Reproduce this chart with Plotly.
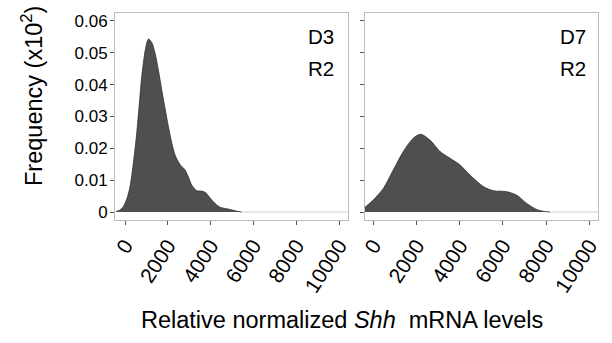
import plotly.graph_objects as go

# D3 R2 density (x = relative normalized Shh mRNA level, y = frequency x10^2)
d3_x = [-420, -250, -78, 100, 234, 400, 545, 680, 779, 950, 1090, 1250, 1402, 1560, 1713, 1870, 2025, 2180, 2336, 2560, 2804, 2960, 3115, 3349, 3540, 3738, 3930, 4128, 4439, 4700, 4907, 5200, 5452]
d3_y = [0.0002, 0.0006, 0.0017, 0.0045, 0.008, 0.016, 0.0247, 0.035, 0.0425, 0.051, 0.0543, 0.0532, 0.0499, 0.0445, 0.0384, 0.0325, 0.0268, 0.0218, 0.0179, 0.0150, 0.0132, 0.0110, 0.0085, 0.0067, 0.0066, 0.0062, 0.0048, 0.0032, 0.0015, 0.0011, 0.0008, 0.0003, 0.0]

# D7 R2 density
d7_x = [-384, 0, 463, 926, 1389, 1852, 2194, 2625, 3088, 3551, 4014, 4477, 5093, 5556, 6173, 6636, 7099, 7562, 7900, 8180]
d7_y = [0.0015, 0.0038, 0.0074, 0.0132, 0.0190, 0.0232, 0.0244, 0.0226, 0.0190, 0.0169, 0.0148, 0.0116, 0.0080, 0.0067, 0.0064, 0.0053, 0.0027, 0.0008, 0.0002, 0.0]

x_ticks = [0, 2000, 4000, 6000, 8000, 10000]
x_tick_labels = ["0", "2000", "4000", "6000", "8000", "10000"]
y_ticks = [0, 0.01, 0.02, 0.03, 0.04, 0.05, 0.06]
y_tick_labels = ["0", "0.01", "0.02", "0.03", "0.04", "0.05", "0.06"]
panel_day = ["D3", "D7"]
panel_rep = ["R2", "R2"]

FONT = "Arial, Liberation Sans, sans-serif"
FILL = "#4f4f4f"
LINE = "#2e2e2e"

fig = go.Figure()

x_range1 = [-470, 10420]
x_range2 = [-384, 10400]
y_range = [-0.0025, 0.0625]

for xs, ys, xa, ya, xr in [(d3_x, d3_y, "x", "y", x_range1), (d7_x, d7_y, "x2", "y2", x_range2)]:
    # light baseline (density line continuing at zero)
    fig.add_trace(go.Scatter(x=[xs[-1], xr[1]], y=[0, 0], mode="lines",
                             line=dict(color="#e2e2e2", width=1.5),
                             xaxis=xa, yaxis=ya, showlegend=False, hoverinfo="skip"))
    fig.add_trace(go.Scatter(x=xs, y=ys, mode="lines", fill="tozeroy",
                             fillcolor=FILL, line=dict(color=LINE, width=0.8, shape="spline", smoothing=0.8),
                             xaxis=xa, yaxis=ya, showlegend=False))

dom1 = [115 / 612, 348 / 612]
dom2 = [365 / 612, 598 / 612]
ydom = [1 - 220 / 343, 1 - 13 / 343]

axis_common = dict(showline=True, linecolor="#bcbcbc", linewidth=1, mirror=True,
                   showgrid=False, zeroline=False, ticks="outside", ticklen=4,
                   tickcolor="#555555", tickwidth=1, automargin=False)

fig.update_layout(
    width=612, height=343,
    margin=dict(l=0, r=0, t=0, b=0, autoexpand=False),
    paper_bgcolor="white", plot_bgcolor="white",
    font=dict(family=FONT, color="#000000"),
    xaxis=dict(domain=dom1, range=x_range1, tickvals=x_ticks, ticktext=x_tick_labels,
               tickangle=-57, tickfont=dict(size=21), anchor="y", **axis_common),
    xaxis2=dict(domain=dom2, range=x_range2, tickvals=x_ticks, ticktext=x_tick_labels,
                tickangle=-57, tickfont=dict(size=21), anchor="y2", **axis_common),
    yaxis=dict(domain=ydom, range=y_range, tickvals=y_ticks, ticktext=y_tick_labels,
               tickfont=dict(size=17), anchor="x", ticklabelstandoff=-1, **axis_common),
    yaxis2=dict(domain=ydom, range=y_range, tickvals=y_ticks, showticklabels=False,
                anchor="x2", **axis_common),
)

for xr_px, day, rep in [(336, panel_day[0], panel_rep[0]), (588, panel_day[1], panel_rep[1])]:
    fig.add_annotation(x=xr_px / 612, y=1 - 36 / 343, xref="paper", yref="paper", text=day,
                       showarrow=False, xanchor="right", yanchor="middle",
                       font=dict(size=20.5, family=FONT))
    fig.add_annotation(x=xr_px / 612, y=1 - 68 / 343, xref="paper", yref="paper", text=rep,
                       showarrow=False, xanchor="right", yanchor="middle",
                       font=dict(size=20.5, family=FONT))

fig.add_annotation(x=32 / 612, y=1 - 96 / 343, xref="paper", yref="paper",
                   text="Frequency (x10<sup>2</sup>)", textangle=-90, showarrow=False,
                   xanchor="center", yanchor="middle",
                   font=dict(size=23.5, family=FONT))
fig.add_annotation(x=342 / 612, y=1 - 320 / 343, xref="paper", yref="paper",
                   text="Relative normalized <i>Shh</i>  mRNA levels", showarrow=False,
                   xanchor="center", yanchor="middle",
                   font=dict(size=23.5, family=FONT))

fig.write_html("out.html", config={"displayModeBar": False},
               post_script="document.body.style.margin='0';")
